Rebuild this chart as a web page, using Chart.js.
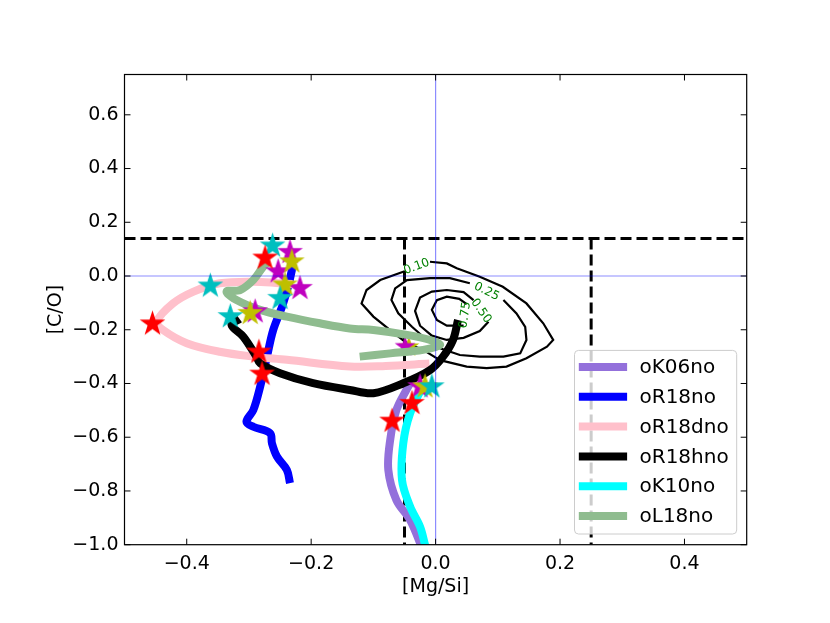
<!DOCTYPE html>
<html>
<head>
<meta charset="utf-8">
<script src="https://cdn.jsdelivr.net/npm/chart.js@4.4.1/dist/chart.umd.min.js"></script>
<style>
  html, body { margin: 0; padding: 0; background: #fff; }
  #wrap { width: 830px; height: 623px; }
</style>
</head>
<body>
<div id="wrap"><canvas id="chart"></canvas></div>
<script>
const xTicks = [-0.4, -0.2, 0.0, 0.2, 0.4];
const yTicks = [-1.0, -0.8, -0.6, -0.4, -0.2, 0.0, 0.2, 0.4, 0.6];

// model tracks as [Mg/Si, C/O] pairs
const oK06no  = [[-0.040,-0.395],[-0.046,-0.420],[-0.063,-0.499],[-0.073,-0.610],[-0.076,-0.722],[-0.063,-0.834],[-0.041,-0.908],[-0.025,-0.994],[-0.022,-1.02]];
const oR18no  = [[-0.232,0.050],[-0.231,0.022],[-0.245,-0.102],[-0.261,-0.201],[-0.271,-0.300],[-0.282,-0.412],[-0.293,-0.499],[-0.304,-0.542],[-0.293,-0.561],[-0.266,-0.585],[-0.263,-0.623],[-0.255,-0.672],[-0.239,-0.722],[-0.234,-0.771]];
const oR18dno = [[-0.010,-0.326],[-0.080,-0.335],[-0.138,-0.337],[-0.239,-0.312],[-0.293,-0.300],[-0.347,-0.282],[-0.400,-0.250],[-0.438,-0.201],[-0.448,-0.170],[-0.422,-0.102],[-0.389,-0.058],[-0.347,-0.027],[-0.293,-0.021],[-0.250,-0.027],[-0.230,-0.030]];
const oR18hno = [[-0.315,-0.160],[-0.328,-0.182],[-0.309,-0.226],[-0.288,-0.300],[-0.282,-0.325],[-0.250,-0.362],[-0.197,-0.399],[-0.138,-0.424],[-0.100,-0.436],[-0.052,-0.399],[-0.009,-0.350],[0.012,-0.300],[0.028,-0.238],[0.036,-0.164]];
const oK10no  = [[-0.012,-0.400],[-0.020,-0.412],[-0.041,-0.511],[-0.052,-0.623],[-0.054,-0.759],[-0.041,-0.858],[-0.025,-0.933],[-0.017,-1.0],[-0.015,-1.02]];
const oL18no  = [[-0.270,0.050],[-0.277,0.035],[-0.293,-0.015],[-0.314,-0.052],[-0.336,-0.058],[-0.320,-0.089],[-0.282,-0.126],[-0.239,-0.151],[-0.186,-0.176],[-0.138,-0.195],[-0.100,-0.201],[-0.046,-0.219],[-0.009,-0.238],[0.007,-0.257],[-0.020,-0.275],[-0.073,-0.288],[-0.122,-0.300]];

// star markers along the tracks
const redStars     = [[-0.455,-0.178],[-0.274,0.067],[-0.284,-0.283],[-0.279,-0.365],[-0.038,-0.474],[-0.070,-0.540]];
const cyanStars    = [[-0.362,-0.037],[-0.262,0.112],[-0.330,-0.151],[-0.250,-0.083],[-0.006,-0.412]];
const yellowStars  = [[-0.231,0.053],[-0.242,-0.033],[-0.298,-0.139],[-0.017,-0.412]];
const magentaStars = [[-0.234,0.088],[-0.253,0.016],[-0.218,-0.046],[-0.290,-0.133],[-0.025,-0.412]];
const buriedStars  = [[-0.049,-0.263],[-0.043,-0.264]];

// density contours, open where the label sits
const contourLevels = ['0.10', '0.25', '0.50', '0.75'];
const lev10 = [[-0.009,0.053],[0.018,0.047],[0.034,0.029],[0.071,-0.003],[0.108,-0.040],[0.146,-0.102],[0.173,-0.176],[0.189,-0.238],[0.179,-0.263],[0.146,-0.306],[0.114,-0.337],[0.082,-0.343],[0.050,-0.337],[0.007,-0.313],[-0.020,-0.275],[-0.046,-0.250],[-0.073,-0.201],[-0.100,-0.151],[-0.119,-0.102],[-0.111,-0.052],[-0.089,-0.015],[-0.052,0.016]];
const lev25 = [[0.055,-0.027],[0.023,-0.008],[-0.009,-0.008],[-0.046,-0.015],[-0.065,-0.046],[-0.071,-0.089],[-0.060,-0.139],[-0.038,-0.189],[-0.014,-0.238],[0.007,-0.269],[0.039,-0.294],[0.071,-0.300],[0.109,-0.300],[0.136,-0.288],[0.146,-0.238],[0.144,-0.189],[0.130,-0.139],[0.109,-0.089]];
const lev50 = [[0.061,-0.090],[0.045,-0.060],[0.018,-0.052],[-0.006,-0.058],[-0.025,-0.080],[-0.033,-0.130],[-0.025,-0.185],[-0.006,-0.222],[0.018,-0.238],[0.045,-0.230],[0.071,-0.205],[0.085,-0.170]];
const lev75 = [[0.050,-0.105],[0.038,-0.085],[0.018,-0.077],[0.002,-0.090],[-0.006,-0.126],[0.002,-0.164],[0.018,-0.185],[0.045,-0.185]];

const coLimit = 0.14;
const mgLimits = [-0.05, 0.25];

const tracks = [
  { name: 'oK06no',  pts: oK06no,  color: '#9370db' },
  { name: 'oR18no',  pts: oR18no,  color: '#0000ff' },
  { name: 'oR18dno', pts: oR18dno, color: '#ffc0cb' },
  { name: 'oR18hno', pts: oR18hno, color: '#000000' },
  { name: 'oK10no',  pts: oK10no,  color: '#00ffff' },
  { name: 'oL18no',  pts: oL18no,  color: '#8fbc8f' },
];
const contours = [lev10, lev25, lev50, lev75];

const toXY = pts => pts.map(([x, y]) => ({ x, y }));
const fmt = v => (v < 0 ? '\u2212' : '') + Math.abs(v).toFixed(1);

function starImage(color, r) {
  const c = document.createElement('canvas');
  c.width = c.height = Math.ceil(2 * r + 2);
  const g = c.getContext('2d');
  g.fillStyle = color;
  g.beginPath();
  for (let i = 0; i < 10; i++) {
    const rad = i % 2 ? r * 0.382 : r;
    const a = -Math.PI / 2 + i * Math.PI / 5;
    g.lineTo(c.width / 2 + rad * Math.cos(a), c.height / 2 + rad * Math.sin(a));
  }
  g.closePath();
  g.fill();
  return c;
}

function starSet(pts, color, order, r) {
  return {
    data: toXY(pts), order,
    pointStyle: starImage(color, r || 13.5),
    pointRadius: 13, showLine: false
  };
}

const datasets = [];
// thin reference lines, drawn above everything
datasets.push({ data: toXY([[0, -1.0], [0, 0.75]]), showLine: true, borderColor: 'rgba(0,0,255,0.45)', borderWidth: 1.2, pointRadius: 0, order: 0, clip: 0 });
datasets.push({ data: toXY([[-0.5, 0], [0.5, 0]]), showLine: true, borderColor: 'rgba(0,0,255,0.45)', borderWidth: 1.2, pointRadius: 0, order: 0, clip: 0 });

datasets.push(starSet(redStars, '#ff0000', 1));
datasets.push(starSet(cyanStars, '#00bfbf', 2));
datasets.push(starSet(yellowStars, '#bfbf00', 3));
datasets.push(starSet(magentaStars, '#bf00bf', 4));

tracks.forEach((t, i) => {
  datasets.push({
    data: toXY(t.pts), showLine: true, borderColor: t.color, borderWidth: 8,
    pointRadius: 0, tension: 0.35, borderCapStyle: 'butt', borderJoinStyle: 'round',
    order: 10 - i, clip: 0
  });
});

datasets.push({ data: toXY([buriedStars[0]]), pointStyle: starImage('#bf00bf', 11), pointRadius: 11, order: 12 });
datasets.push({ data: toXY([buriedStars[1]]), pointStyle: starImage('#bfbf00', 11), pointRadius: 11, order: 12 });

contours.forEach(c => {
  datasets.push({ data: toXY(c), showLine: true, borderColor: '#000', borderWidth: 2.2, pointRadius: 0, tension: 0, order: 13, clip: 0 });
});

// dashed selection box
datasets.push({ data: toXY([[-0.5, coLimit], [0.5, coLimit]]), showLine: true, borderColor: '#000', borderWidth: 3, borderDash: [11, 5], pointRadius: 0, order: 14, clip: 0 });
mgLimits.forEach(m => {
  datasets.push({ data: toXY([[m, coLimit], [m, -1.0]]), showLine: true, borderColor: '#000', borderWidth: 3, borderDash: [11, 5], pointRadius: 0, order: 14, clip: 0 });
});

const decorPlugin = {
  id: 'decor',
  afterDatasetsDraw(chart) {
    const { ctx, chartArea: a, scales: { x, y } } = chart;
    ctx.save();

    // contour labels in the gaps
    ctx.fillStyle = '#008000';
    ctx.font = '12px "DejaVu Sans"';
    ctx.textAlign = 'center';
    ctx.textBaseline = 'middle';
    contours.forEach((c, i) => {
      const p0 = c[c.length - 1], p1 = c[0];
      const x0 = x.getPixelForValue(p0[0]), y0 = y.getPixelForValue(p0[1]);
      const x1 = x.getPixelForValue(p1[0]), y1 = y.getPixelForValue(p1[1]);
      let ang = Math.atan2(y0 - y1, x0 - x1);
      if (ang > Math.PI / 2) ang -= Math.PI;
      if (ang < -Math.PI / 2) ang += Math.PI;
      ctx.save();
      ctx.translate((x0 + x1) / 2, (y0 + y1) / 2);
      ctx.rotate(ang);
      ctx.fillText(contourLevels[i], 0, 0);
      ctx.restore();
    });

    // legend, lower right
    ctx.font = '20px "DejaVu Sans"';
    const maxW = Math.max(...tracks.map(t => ctx.measureText(t.name).width));
    const rowH = 29.8;
    const boxW = 65 + maxW + 8;
    const boxH = 16.6 + rowH * (tracks.length - 1) + 18;
    const bx = a.right - 10 - boxW, by = a.bottom - 10.7 - boxH, r = 4;
    ctx.beginPath();
    ctx.moveTo(bx + r, by);
    ctx.arcTo(bx + boxW, by, bx + boxW, by + boxH, r);
    ctx.arcTo(bx + boxW, by + boxH, bx, by + boxH, r);
    ctx.arcTo(bx, by + boxH, bx, by, r);
    ctx.arcTo(bx, by, bx + boxW, by, r);
    ctx.closePath();
    ctx.fillStyle = 'rgba(255,255,255,0.8)';
    ctx.fill();
    ctx.strokeStyle = '#cccccc';
    ctx.lineWidth = 1;
    ctx.stroke();
    ctx.textAlign = 'left';
    tracks.forEach((t, i) => {
      const cy = by + 16.6 + i * rowH;
      ctx.strokeStyle = t.color;
      ctx.lineWidth = 8;
      ctx.lineCap = 'butt';
      ctx.beginPath();
      ctx.moveTo(bx + 4.3, cy);
      ctx.lineTo(bx + 52.6, cy);
      ctx.stroke();
      ctx.fillStyle = '#000';
      ctx.fillText(t.name, bx + 65, cy + 1);
    });

    // frame and inward ticks on all four sides
    ctx.strokeStyle = '#000';
    ctx.lineWidth = 1.2;
    ctx.strokeRect(a.left, a.top, a.right - a.left, a.bottom - a.top);
    ctx.lineWidth = 1;
    ctx.beginPath();
    xTicks.forEach(v => {
      const px = x.getPixelForValue(v);
      ctx.moveTo(px, a.bottom); ctx.lineTo(px, a.bottom - 6);
      ctx.moveTo(px, a.top); ctx.lineTo(px, a.top + 6);
    });
    yTicks.forEach(v => {
      const py = y.getPixelForValue(v);
      ctx.moveTo(a.left, py); ctx.lineTo(a.left + 6, py);
      ctx.moveTo(a.right, py); ctx.lineTo(a.right - 6, py);
    });
    ctx.stroke();
    ctx.restore();
  }
};

Chart.defaults.font.family = '"DejaVu Sans", sans-serif';
Chart.defaults.color = '#000';

new Chart(document.getElementById('chart'), {
  type: 'scatter',
  data: { datasets },
  options: {
    responsive: true,
    maintainAspectRatio: false,
    animation: false,
    layout: { padding: { top: 74.5, right: 83.3, left: 0, bottom: 0 } },
    plugins: { legend: { display: false }, tooltip: { enabled: false } },
    scales: {
      x: {
        type: 'linear', min: -0.5, max: 0.5,
        grid: { display: false, drawTicks: false },
        border: { display: false },
        afterBuildTicks: s => { s.ticks = xTicks.map(v => ({ value: v })); },
        afterFit: s => { s.height = 78.3; },
        ticks: { font: { size: 19 }, padding: 8, maxRotation: 0, autoSkip: false, callback: fmt },
        title: { display: true, text: '[Mg/Si]', font: { size: 19 }, padding: { bottom: 25 } }
      },
      y: {
        type: 'linear', min: -1.0, max: 0.75,
        grid: { display: false, drawTicks: false },
        border: { display: false },
        afterBuildTicks: s => { s.ticks = yTicks.map(v => ({ value: v })); },
        afterFit: s => { s.width = 124.5; },
        ticks: { font: { size: 19 }, padding: 6, autoSkip: false, callback: fmt },
        title: { display: true, text: '[C/O]', font: { size: 19 }, padding: { top: 45 } }
      }
    }
  },
  plugins: [decorPlugin]
});
</script>
</body>
</html>
